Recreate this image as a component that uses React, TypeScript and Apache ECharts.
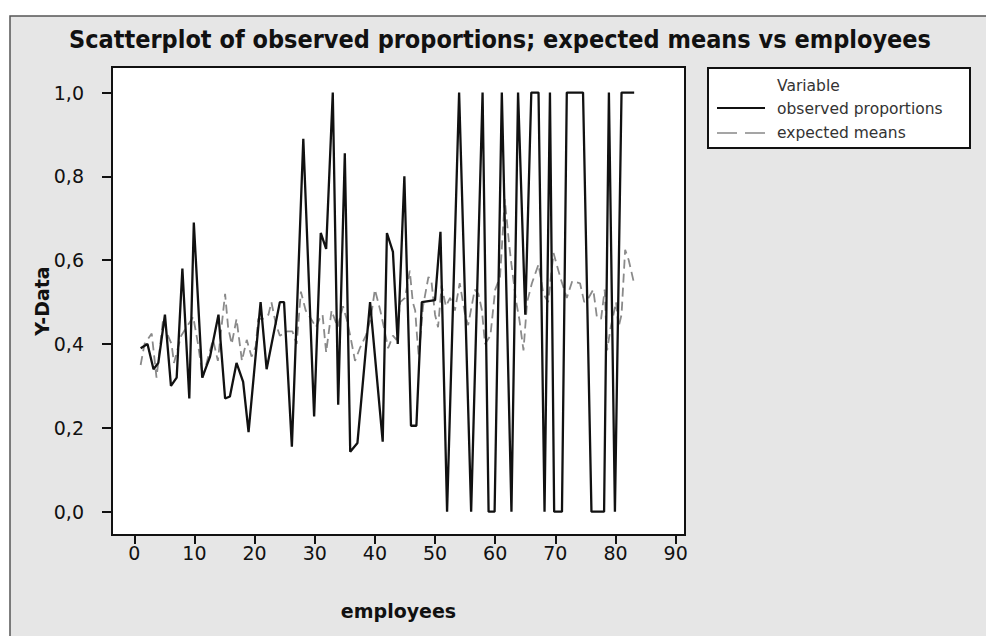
import React, { useEffect, useRef } from "react";
import * as echarts from "echarts";

const title = "Scatterplot of observed proportions; expected means vs employees";
const xTicks = [0, 10, 20, 30, 40, 50, 60, 70, 80, 90];
const yTicks = [0, 0.2, 0.4, 0.6, 0.8, 1.0];

const obsX = [1.06, 2.2, 3.2, 4.0, 5.1, 6.1, 7.05, 8.0, 9.15, 9.9, 11.3, 12.6, 14.0, 15.1, 15.9, 17.0, 18.1, 19.0, 21.0, 22.0, 24.2, 24.9, 26.2, 28.1, 29.9, 31.0, 31.9, 33.0, 33.9, 35.0, 35.9, 37.1, 39.2, 41.3, 42.0, 43.0, 43.8, 44.9, 46.0, 46.9, 47.8, 50.0, 50.9, 52.0, 54.0, 56.0, 57.9, 58.9, 59.9, 61.1, 62.7, 63.8, 65.0, 66.0, 67.2, 68.2, 69.1, 69.8, 71.1, 71.9, 74.6, 76.0, 78.1, 78.9, 79.9, 81.0, 83.1];
const obsY = [0.39, 0.40, 0.34, 0.355, 0.47, 0.30, 0.32, 0.58, 0.27, 0.69, 0.32, 0.37, 0.47, 0.27, 0.275, 0.355, 0.31, 0.19, 0.50, 0.34, 0.50, 0.50, 0.155, 0.89, 0.227, 0.665, 0.627, 1.0, 0.255, 0.855, 0.143, 0.164, 0.50, 0.167, 0.665, 0.62, 0.40, 0.80, 0.205, 0.205, 0.50, 0.505, 0.668, 0, 1.0, 0, 1.0, 0, 0, 1.0, 0, 1.0, 0.47, 1.0, 1.0, 0, 1.0, 0, 0, 1.0, 1.0, 0, 0, 1.0, 0, 1.0, 1.0];

const expX = [1.06, 1.7, 2.9, 3.7, 4.8, 5.6, 6.2, 6.6, 7.8, 8.7, 9.8, 10.6, 11.4, 12.3, 13.1, 13.9, 15.1, 15.6, 16.2, 17.0, 17.9, 18.7, 19.5, 20.2, 20.6, 21.4, 22.3, 22.8, 23.5, 24.2, 25.4, 26.3, 27.0, 27.7, 28.5, 29.4, 30.2, 30.8, 31.3, 31.9, 32.8, 33.8, 34.7, 35.3, 35.9, 36.7, 37.5, 38.5, 39.3, 40.0, 40.9, 41.5, 42.2, 43.0, 43.6, 44.2, 45.0, 45.8, 46.3, 46.7, 47.0, 47.3, 48.0, 48.9, 49.4, 50.0, 50.5, 51.1, 51.8, 52.5, 53.3, 54.1, 55.0, 55.5, 56.6, 57.2, 57.8, 58.3, 59.2, 60.0, 60.8, 61.6, 62.3, 62.7, 63.5, 64.0, 64.7, 65.3, 66.1, 67.2, 68.0, 68.8, 69.7, 70.8, 71.9, 72.8, 74.1, 74.8, 75.5, 76.3, 76.9, 77.6, 78.2, 78.6, 79.2, 80.1, 80.5, 81.0, 81.6, 82.2, 83.0];
const expY = [0.35, 0.40, 0.425, 0.32, 0.46, 0.42, 0.40, 0.355, 0.42, 0.44, 0.465, 0.40, 0.32, 0.37, 0.41, 0.36, 0.52, 0.44, 0.40, 0.46, 0.36, 0.41, 0.37, 0.395, 0.46, 0.46, 0.47, 0.50, 0.45, 0.42, 0.43, 0.43, 0.40, 0.525, 0.48, 0.46, 0.44, 0.46, 0.47, 0.38, 0.48, 0.44, 0.49, 0.46, 0.42, 0.36, 0.39, 0.42, 0.46, 0.53, 0.48, 0.44, 0.39, 0.42, 0.41, 0.50, 0.51, 0.575, 0.50, 0.48, 0.42, 0.37, 0.49, 0.56, 0.55, 0.47, 0.44, 0.54, 0.49, 0.51, 0.48, 0.545, 0.47, 0.445, 0.53, 0.52, 0.48, 0.40, 0.42, 0.53, 0.56, 0.745, 0.64, 0.59, 0.50, 0.46, 0.385, 0.50, 0.545, 0.59, 0.52, 0.50, 0.617, 0.56, 0.51, 0.55, 0.545, 0.50, 0.51, 0.53, 0.465, 0.46, 0.53, 0.385, 0.44, 0.50, 0.44, 0.47, 0.625, 0.60, 0.55];

const seriesNames = ["observed proportions", "expected means"];
const legendTitle = "Variable";

export default function App() {
  const ref = useRef<HTMLDivElement>(null);
  useEffect(() => {
    if (!ref.current) return;
    const chart = echarts.init(ref.current, undefined, { renderer: "svg" });
    const font = "DejaVu Sans";
    chart.setOption({
      animation: false,
      backgroundColor: "#ffffff",
      title: {
        text: title,
        left: 495,
        textAlign: "center",
        top: 22,
        textStyle: { fontFamily: "DejaVu Sans Condensed", fontWeight: "bold", fontSize: 25, color: "#111" },
      },
      grid: {
        left: 112,
        top: 67,
        right: 301,
        bottom: 101,
        show: true,
        backgroundColor: "#ffffff",
        borderColor: "#111",
        borderWidth: 2,
        containLabel: false,
      },
      xAxis: {
        type: "value",
        min: -3.7,
        max: 91.55,
        name: "employees",
        nameLocation: "middle",
        nameGap: 66,
        nameMoveOverlap: false,
        nameTextStyle: { fontFamily: font, fontWeight: "bold", fontSize: 19, color: "#111" },
        axisLine: { show: true, onZero: false, lineStyle: { color: "#111", width: 2 } },
        axisTick: { show: true, length: 9, customValues: xTicks, lineStyle: { color: "#111", width: 2 } },
        axisLabel: { customValues: xTicks, margin: 8, fontFamily: font, fontSize: 19, color: "#111" },
        splitLine: { show: false },
      },
      yAxis: {
        type: "value",
        min: -0.0556,
        max: 1.061,
        name: "Y-Data",
        nameLocation: "middle",
        nameGap: 61,
        nameMoveOverlap: false,
        nameTextStyle: { fontFamily: font, fontWeight: "bold", fontSize: 19, color: "#111" },
        axisLine: { show: true, onZero: false, lineStyle: { color: "#111", width: 2 } },
        axisTick: { show: true, length: 10, customValues: yTicks, lineStyle: { color: "#111", width: 2 } },
        axisLabel: {
          customValues: yTicks,
          margin: 28,
          fontFamily: font,
          fontSize: 19,
          color: "#111",
          formatter: (v: number) => v.toFixed(1).replace(".", ","),
        },
        splitLine: { show: false },
      },
      graphic: [
        {
          type: "rect",
          z: -10,
          silent: true,
          shape: { x: 10, y: 16, width: 990, height: 640 },
          style: { fill: "#e6e6e6", stroke: "#555", lineWidth: 1.5 },
        },
        {
          type: "group",
          children: [
            { type: "rect", shape: { x: 708, y: 68, width: 262, height: 80 }, style: { fill: "#fff", stroke: "#111", lineWidth: 2 } },
            { type: "text", x: 777, y: 86, style: { text: legendTitle, fontFamily: font, fontSize: 15.5, fill: "#333", verticalAlign: "middle" } },
            { type: "line", shape: { x1: 717, y1: 108, x2: 765, y2: 108 }, style: { stroke: "#111", lineWidth: 2 } },
            { type: "text", x: 777, y: 109, style: { text: seriesNames[0], fontFamily: font, fontSize: 15.5, fill: "#333", verticalAlign: "middle" } },
            { type: "line", shape: { x1: 717, y1: 133, x2: 765, y2: 133 }, style: { stroke: "#888", lineWidth: 1.5, lineDash: [20, 8] } },
            { type: "text", x: 777, y: 133, style: { text: seriesNames[1], fontFamily: font, fontSize: 15.5, fill: "#333", verticalAlign: "middle" } },
          ],
        },
      ],
      series: [
        {
          name: seriesNames[1],
          type: "line",
          data: expX.map((x, i) => [x, expY[i]]),
          showSymbol: false,
          symbol: "none",
          lineStyle: { color: "#8a8a8a", width: 1.8, type: [9, 5] },
          z: 2,
        },
        {
          name: seriesNames[0],
          type: "line",
          data: obsX.map((x, i) => [x, obsY[i]]),
          showSymbol: false,
          symbol: "none",
          lineStyle: { color: "#111", width: 2.3 },
          z: 3,
        },
      ],
    });
    return () => chart.dispose();
  }, []);
  return <div ref={ref} style={{ position: "absolute", left: 0, top: 0, width: 986, height: 636 }} />;
}
